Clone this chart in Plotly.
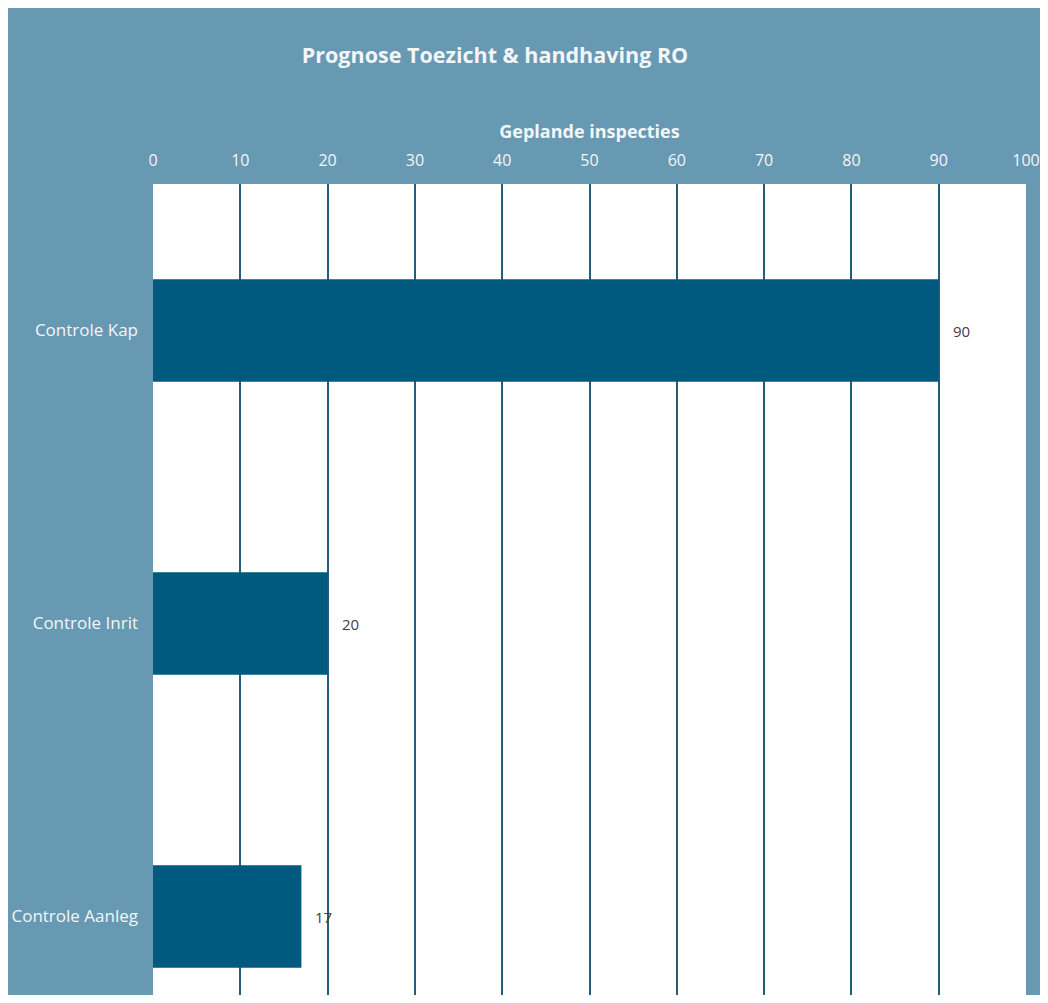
import plotly.graph_objects as go

categories = ["Controle Kap", "Controle Inrit", "Controle Aanleg"]
values = [90, 20, 17]
tick_vals = [0, 10, 20, 30, 40, 50, 60, 70, 80, 90, 100]

BG = "#6799b3"
BAR = "#005a80"
GRID = "#235d77"
TXT = "#f2f6f8"
FONT = "Open Sans"

W, H = 1032, 987
L, R, T, B = 145, 12, 176, 0
band = 293.0
plot_h = H - T - B
y_lo = -0.5 + plot_h / band

fig = go.Figure()
fig.add_trace(go.Bar(
    y=list(range(len(categories))), x=values, orientation="h",
    marker=dict(color=BAR, line=dict(width=0)), width=0.35,
    hoverinfo="x+y",
))
for i, v in enumerate(values):
    fig.add_annotation(x=v, y=i, xref="x", yref="y", text=str(v), showarrow=False,
                       xanchor="left", xshift=12,
                       font=dict(family=FONT, size=15, color="#404040"))

fig.update_layout(
    width=W, height=H,
    margin=dict(l=L, r=R, t=T, b=B, pad=0),
    paper_bgcolor=BG, plot_bgcolor="white",
    showlegend=False,
    title=dict(text="<b>Prognose Toezicht &amp; handhaving RO</b>",
               x=487 / W, xanchor="center", xref="container",
               y=1 - 47 / H, yanchor="middle", yref="container",
               font=dict(family=FONT, size=21.5, color=TXT)),
    xaxis=dict(side="top", range=[0, 100], tickvals=tick_vals,
               showgrid=True, gridcolor=GRID, gridwidth=2,
               zeroline=False, showline=False, ticks="",
               ticklabelstandoff=14, ticklabeloverflow="allow",
               tickfont=dict(family=FONT, size=16, color=TXT),
               title=dict(text="<b>Geplande inspecties</b>", standoff=5,
                          font=dict(family=FONT, size=18, color=TXT))),
    yaxis=dict(range=[y_lo, -0.5], tickvals=list(range(len(categories))),
               ticktext=categories, showgrid=False, zeroline=False,
               showline=False, ticks="", ticklabelstandoff=14,
               tickfont=dict(family=FONT, size=17, color=TXT)),
)

fig.write_html("out.html")
